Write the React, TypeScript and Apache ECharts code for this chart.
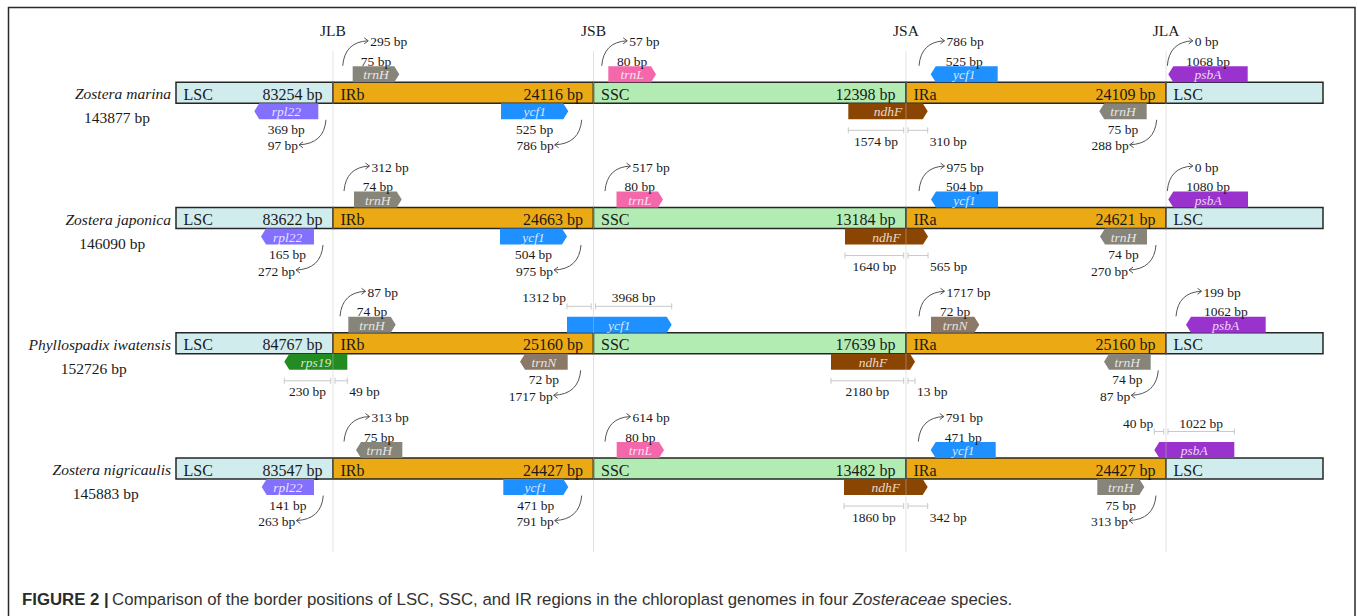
import React, { useEffect, useRef } from 'react';
import * as echarts from 'echarts';

// ---------- data ----------
const junctionNames = ['JLB', 'JSB', 'JSA', 'JLA'];
// schematic x positions (diagram units) of the bar ends and junctions
const barLimits = [176, 1323];
const junctionPos = [333, 593.5, 906, 1166];
const regionNames = ['LSC', 'IRb', 'SSC', 'IRa', 'LSC'];

const speciesNames = ['Zostera marina', 'Zostera japonica', 'Phyllospadix iwatensis', 'Zostera nigricaulis'];
const genomeSizes = ['143877 bp', '146090 bp', '152726 bp', '145883 bp'];
const lscLengths = ['83254 bp', '83622 bp', '84767 bp', '83547 bp'];
const irbLengths = ['24116 bp', '24663 bp', '25160 bp', '24427 bp'];
const sscLengths = ['12398 bp', '13184 bp', '17639 bp', '13482 bp'];
const iraLengths = ['24109 bp', '24621 bp', '25160 bp', '24427 bp'];

type Gene = {
  row: number; name: string; from: number; to: number; side: 'top' | 'bottom'; dir: 1 | -1;
  junction: number; count?: string; dist?: string; anchor?: number; measure?: [string, string];
};

const genesZMarina: Gene[] = [
  { row: 0, name: 'trnH', from: 352.7, to: 399.3, side: 'top', dir: 1, junction: 0, count: '75 bp', dist: '295 bp', anchor: 342.7 },
  { row: 0, name: 'trnL', from: 608.3, to: 656, side: 'top', dir: 1, junction: 1, count: '80 bp', dist: '57 bp', anchor: 601.7 },
  { row: 0, name: 'ycf1', from: 930.7, to: 997.7, side: 'top', dir: -1, junction: 2, count: '525 bp', dist: '786 bp', anchor: 919 },
  { row: 0, name: 'psbA', from: 1168.3, to: 1247.7, side: 'top', dir: -1, junction: 3, count: '1068 bp', dist: '0 bp', anchor: 1167.3 },
  { row: 0, name: 'rpl22', from: 254.3, to: 318.3, side: 'bottom', dir: -1, junction: 0, count: '369 bp', dist: '97 bp', anchor: 326 },
  { row: 0, name: 'ycf1', from: 501, to: 568.3, side: 'bottom', dir: 1, junction: 1, count: '525 bp', dist: '786 bp', anchor: 581.7 },
  { row: 0, name: 'ndhF', from: 848.3, to: 927.7, side: 'bottom', dir: 1, junction: 2, measure: ['1574 bp', '310 bp'] },
  { row: 0, name: 'trnH', from: 1099.3, to: 1146.7, side: 'bottom', dir: -1, junction: 3, count: '75 bp', dist: '288 bp', anchor: 1156.7 },
];
const genesZJaponica: Gene[] = [
  { row: 1, name: 'trnH', from: 354, to: 401.7, side: 'top', dir: 1, junction: 0, count: '74 bp', dist: '312 bp', anchor: 344 },
  { row: 1, name: 'trnL', from: 616.5, to: 663, side: 'top', dir: 1, junction: 1, count: '80 bp', dist: '517 bp', anchor: 605 },
  { row: 1, name: 'ycf1', from: 931, to: 998, side: 'top', dir: -1, junction: 2, count: '504 bp', dist: '975 bp', anchor: 919 },
  { row: 1, name: 'psbA', from: 1168.3, to: 1248, side: 'top', dir: -1, junction: 3, count: '1080 bp', dist: '0 bp', anchor: 1167.3 },
  { row: 1, name: 'rpl22', from: 261, to: 314, side: 'bottom', dir: -1, junction: 0, count: '165 bp', dist: '272 bp', anchor: 323 },
  { row: 1, name: 'ycf1', from: 500, to: 567, side: 'bottom', dir: 1, junction: 1, count: '504 bp', dist: '975 bp', anchor: 581 },
  { row: 1, name: 'ndhF', from: 845, to: 928, side: 'bottom', dir: 1, junction: 2, measure: ['1640 bp', '565 bp'] },
  { row: 1, name: 'trnH', from: 1100, to: 1147, side: 'bottom', dir: -1, junction: 3, count: '74 bp', dist: '270 bp', anchor: 1156 },
];
const genesPIwatensis: Gene[] = [
  { row: 2, name: 'trnH', from: 348.3, to: 395.7, side: 'top', dir: 1, junction: 0, count: '74 bp', dist: '87 bp', anchor: 340 },
  { row: 2, name: 'ycf1', from: 567, to: 671.7, side: 'top', dir: 1, junction: 1, measure: ['1312 bp', '3968 bp'] },
  { row: 2, name: 'trnN', from: 931, to: 979.3, side: 'top', dir: 1, junction: 2, count: '72 bp', dist: '1717 bp', anchor: 919 },
  { row: 2, name: 'psbA', from: 1186, to: 1265.7, side: 'top', dir: -1, junction: 3, count: '1062 bp', dist: '199 bp', anchor: 1176 },
  { row: 2, name: 'rps19', from: 284.3, to: 347.3, side: 'bottom', dir: -1, junction: 0, measure: ['230 bp', '49 bp'] },
  { row: 2, name: 'trnN', from: 520, to: 567.7, side: 'bottom', dir: -1, junction: 1, count: '72 bp', dist: '1717 bp', anchor: 580.7 },
  { row: 2, name: 'ndhF', from: 831, to: 915, side: 'bottom', dir: 1, junction: 2, measure: ['2180 bp', '13 bp'] },
  { row: 2, name: 'trnH', from: 1104, to: 1150.7, side: 'bottom', dir: -1, junction: 3, count: '74 bp', dist: '87 bp', anchor: 1158.3 },
];
const genesZNigricaulis: Gene[] = [
  { row: 3, name: 'trnH', from: 356, to: 402.3, side: 'top', dir: -1, junction: 0, count: '75 bp', dist: '313 bp', anchor: 344 },
  { row: 3, name: 'trnL', from: 616.7, to: 664, side: 'top', dir: 1, junction: 1, count: '80 bp', dist: '614 bp', anchor: 605 },
  { row: 3, name: 'ycf1', from: 930.7, to: 995.7, side: 'top', dir: -1, junction: 2, count: '471 bp', dist: '791 bp', anchor: 918.3 },
  { row: 3, name: 'psbA', from: 1154.3, to: 1234.3, side: 'top', dir: -1, junction: 3, measure: ['40 bp', '1022 bp'] },
  { row: 3, name: 'rpl22', from: 261.7, to: 314, side: 'bottom', dir: -1, junction: 0, count: '141 bp', dist: '263 bp', anchor: 323.3 },
  { row: 3, name: 'ycf1', from: 503.3, to: 568.3, side: 'bottom', dir: 1, junction: 1, count: '471 bp', dist: '791 bp', anchor: 581.7 },
  { row: 3, name: 'ndhF', from: 844, to: 927.7, side: 'bottom', dir: 1, junction: 2, measure: ['1860 bp', '342 bp'] },
  { row: 3, name: 'trnH', from: 1097.3, to: 1144.3, side: 'bottom', dir: 1, junction: 3, count: '75 bp', dist: '313 bp', anchor: 1156 },
];

const captionBold = 'FIGURE 2 |';
const captionText = 'Comparison of the border positions of LSC, SSC, and IR regions in the chloroplast genomes in four ';
const captionItalic = 'Zosteraceae';
const captionEnd = ' species.';

// ---------- styles ----------
const SERIF = '"Liberation Serif", "Times New Roman", serif';
const SANS = '"Liberation Sans", Arial, sans-serif';
const regionColors = ['#d1ecec', '#ebaa13', '#b3ecb3', '#ebaa13', '#d1ecec'];
const geneColors: Record<string, string> = {
  trnH: '#878479', trnL: '#f567ab', ycf1: '#1e90ff', ndhF: '#8b4502', psbA: '#9a32cd',
  rpl22: '#8470ff', rps19: '#228b22', trnN: '#8b7867',
};
const BAR_H = 21;
const GENE_H = 16;
const TEXT = '#1a1a1a';
const CURVE = '#555';
const MEAS = '#c8c8c8';

function measure(text: string, font: string) {
  const ctx = document.createElement('canvas').getContext('2d')!;
  ctx.font = font;
  return ctx.measureText(text).width;
}

function label(text: string, x: number, y: number, align: string, size = 13.5, extra: any = {}) {
  return {
    type: 'text', x, y,
    style: { text, fill: TEXT, font: `${size}px ${SERIF}`, align, verticalAlign: 'middle', ...extra },
  };
}

export default function App() {
  const ref = useRef<HTMLDivElement>(null);
  useEffect(() => {
    const chart = echarts.init(ref.current!, null, { renderer: 'svg' });
    const genes = [...genesZMarina, ...genesZJaponica, ...genesPIwatensis, ...genesZNigricaulis];
    const bounds = [barLimits[0], ...junctionPos, barLimits[1]];
    const barData: number[][] = [];
    speciesNames.forEach((_, r) => {
      for (let s = 0; s < 5; s++) barData.push([bounds[s], bounds[s + 1], r, s]);
    });
    const lengths = [lscLengths, irbLengths, sscLengths, iraLengths];
    const nameFont = `italic 15.5px ${SERIF}`;

    const rowSpacing = 125.25;
    const row0 = 92.8;
    const yMin = -row0 / rowSpacing;
    const yMax = yMin + 616 / rowSpacing;

    const option: any = {
      animation: false,
      grid: { left: 0, right: 0, top: 0, bottom: 0 },
      xAxis: { type: 'value', min: 0, max: 1358, show: false },
      yAxis: { type: 'value', min: yMin, max: yMax, inverse: true, show: false },
      graphic: [
        {
          type: 'rect', z: 100,
          shape: { x: 8.5, y: 7.5, width: 1346.5, height: 700 },
          style: { fill: 'none', stroke: '#2a2a2a', lineWidth: 1.5 },
        },
        {
          type: 'text', left: 22, top: 591,
          style: {
            text: `{a|${captionBold}} {b|${captionText}}{c|${captionItalic}}{b|${captionEnd}}`,
            rich: {
              a: { font: `bold 16.8px ${SANS}`, fill: '#2b2b2b' },
              b: { font: `16.8px ${SANS}`, fill: '#333' },
              c: { font: `italic 16.8px ${SANS}`, fill: '#333' },
            },
          },
        },
      ],
      series: [
        {
          type: 'custom', silent: true, z: 5,
          data: junctionPos.map((x, i) => [x, i]),
          renderItem: (params: any, api: any) => {
            const i = params.dataIndex;
            const [x, y0] = api.coord([junctionPos[i], 0]);
            const [, y3] = api.coord([junctionPos[i], 3]);
            return {
              type: 'group', children: [
                { type: 'line', shape: { x1: x, y1: y0 - 41.8, x2: x, y2: y3 + 83.5 }, style: { stroke: 'rgba(190,190,190,0.45)', lineWidth: 1 } },
                label(junctionNames[i], x, y0 - 62, 'center', 15.5),
              ],
            };
          },
        },
        {
          type: 'custom', silent: true, z: 2,
          data: barData,
          renderItem: (params: any, api: any) => {
            const [a, b, r, s] = barData[params.dataIndex];
            const [x0, yc] = api.coord([a, r]);
            const [x1] = api.coord([b, r]);
            const children: any[] = [
              { type: 'rect', shape: { x: x0, y: yc - BAR_H / 2, width: x1 - x0, height: BAR_H }, style: { fill: regionColors[s], stroke: '#262626', lineWidth: 1.5 } },
              label(regionNames[s], x0 + 7.5, yc + 1.5, 'left', 16),
            ];
            if (s < 4) children.push(label(lengths[s][r], x1 - 10.5, yc + 1.5, 'right', 16));
            return { type: 'group', children };
          },
        },
        {
          type: 'custom', silent: true, z: 3,
          data: speciesNames.map((_, r) => [barLimits[0], r]),
          renderItem: (params: any, api: any) => {
            const r = params.dataIndex;
            const [, yc] = api.coord([barLimits[0], r]);
            const [xr] = api.coord([barLimits[0] - 5, r]);
            const w = measure(speciesNames[r], nameFont);
            return {
              type: 'group', children: [
                label(speciesNames[r], xr, yc + 1, 'right', 15.5, { font: nameFont }),
                label(genomeSizes[r], xr - w / 2 - 6, yc + 25, 'center', 15.5),
              ],
            };
          },
        },
        {
          type: 'custom', silent: true, z: 4,
          data: genes.map((g) => [g.from, g.row]),
          renderItem: (params: any, api: any) => {
            const g = genes[params.dataIndex];
            const [xa, yc] = api.coord([g.from, g.row]);
            const [xb] = api.coord([g.to, g.row]);
            const top = g.side === 'top';
            const y0 = top ? yc - BAR_H / 2 - GENE_H : yc + BAR_H / 2;
            const y1 = y0 + GENE_H;
            const ym = (y0 + y1) / 2;
            const T = 5;
            const pts = g.dir > 0
              ? [[xa, y0], [xb - T, y0], [xb, ym], [xb - T, y1], [xa, y1]]
              : [[xa + T, y0], [xb, y0], [xb, y1], [xa + T, y1], [xa, ym]];
            const cx = (xa + xb) / 2;
            const children: any[] = [
              { type: 'polygon', shape: { points: pts }, style: { fill: geneColors[g.name] } },
            ];
            const lineStyle = { stroke: CURVE, fill: 'none', lineWidth: 1 };
            if (g.count && g.anchor !== undefined) {
              const [sx] = api.coord([g.anchor, g.row]);
              if (top) {
                children.push(label(g.count, cx, y0 - 5, 'center'));
                const sy = y0 - 0.5, ex = sx + 25.5, ey = y0 - 25.5;
                children.push({ type: 'bezierCurve', shape: { x1: sx, y1: sy, x2: ex, y2: ey, cpx1: sx + 2, cpy1: ey + 1 }, style: lineStyle });
                children.push({ type: 'polyline', shape: { points: [[ex - 4, ey - 3], [ex, ey], [ex - 4, ey + 3]] }, style: lineStyle });
                children.push(label(g.dist!, ex + 2, ey + 1, 'left'));
              } else {
                children.push(label(g.count, cx, y1 + 10, 'center'));
                const sy = y1 + 0.5, ex = sx - 27, ey = y1 + 25.5;
                children.push({ type: 'bezierCurve', shape: { x1: sx, y1: sy, x2: ex, y2: ey, cpx1: sx - 2, cpy1: ey - 1 }, style: lineStyle });
                children.push({ type: 'polyline', shape: { points: [[ex + 4, ey - 3], [ex, ey], [ex + 4, ey + 3]] }, style: lineStyle });
                children.push(label(g.dist!, ex - 1, ey + 1, 'right'));
              }
            }
            if (g.measure) {
              const [jx] = api.coord([junctionPos[g.junction], g.row]);
              const segs = [[xa, jx - 2.3], [jx + 2, xb]];
              const ly = top ? y0 - 10.5 : y1 + 11;
              const ms = { stroke: MEAS, lineWidth: 1 };
              segs.forEach(([p, q]) => {
                children.push({ type: 'line', shape: { x1: p, y1: ly, x2: q, y2: ly }, style: ms });
                children.push({ type: 'line', shape: { x1: p, y1: ly - 3, x2: p, y2: ly + 3 }, style: ms });
                children.push({ type: 'line', shape: { x1: q, y1: ly - 3, x2: q, y2: ly + 3 }, style: ms });
              });
              if (top) {
                children.push(label(g.measure[0], segs[0][0] - 1, ly - 8.5, 'right'));
                children.push(label(g.measure[1], (segs[1][0] + segs[1][1]) / 2, ly - 8.5, 'center'));
              } else {
                children.push(label(g.measure[0], (segs[0][0] + segs[0][1]) / 2, ly + 11, 'center'));
                children.push(label(g.measure[1], segs[1][1] + 2, ly + 11, 'left'));
              }
            }
            children.push({
              type: 'text', x: cx, y: ym + 0.5,
              style: { text: g.name, fill: 'rgba(255,255,255,0.82)', font: `italic 13.5px ${SERIF}`, align: 'center', verticalAlign: 'middle' },
            });
            return { type: 'group', children };
          },
        },
      ],
    };
    chart.setOption(option);
    return () => chart.dispose();
  }, []);
  return <div ref={ref} style={{ position: 'absolute', left: 0, top: 0, width: 1358, height: 616, background: '#fff' }} />;
}
